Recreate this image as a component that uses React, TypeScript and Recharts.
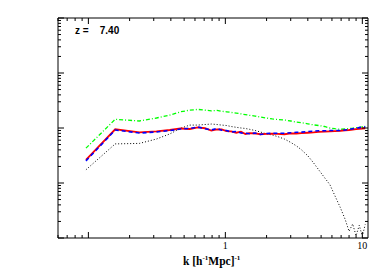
import { LineChart, Line, XAxis, YAxis } from "recharts";

// wavenumber k [h/Mpc]
const kValues = [
  0.096, 0.157, 0.236, 0.314, 0.393, 0.471, 0.55, 0.63, 0.71, 0.79, 0.87,
  0.94, 1.02, 1.1, 1.2, 1.3, 1.4, 1.5, 1.65, 1.8, 2.0, 2.2, 2.4, 2.7, 3.0,
  3.3, 3.6, 4.0, 4.4, 4.8, 5.3, 5.8, 6.3, 6.9, 7.5, 8.0, 8.5, 9.0, 9.5,
  10.0, 10.5,
];

const redRatio = [
  0.264, 0.947, 0.83, 0.865, 0.92, 0.98, 0.96, 1.03, 0.99, 0.9, 0.94, 0.947,
  0.88, 0.865, 0.82, 0.857, 0.78, 0.81, 0.795, 0.77, 0.78, 0.79, 0.78, 0.77,
  0.795, 0.795, 0.805, 0.82, 0.83, 0.847, 0.857, 0.87, 0.88, 0.89, 0.91,
  0.92, 0.935, 0.95, 0.967, 0.98, 0.99,
];

const blueRatio = [
  0.253, 0.92, 0.81, 0.847, 0.9, 0.96, 0.98, 1.04, 0.967, 0.92, 0.98, 0.91,
  0.9, 0.847, 0.865, 0.81, 0.805, 0.785, 0.81, 0.76, 0.795, 0.8, 0.805,
  0.805, 0.82, 0.836, 0.84, 0.865, 0.875, 0.89, 0.89, 0.9, 0.897, 0.905,
  0.92, 0.94, 0.967, 0.99, 1.017, 1.034, 1.05,
];

const greenRatio = [
  0.43, 1.44, 1.34, 1.52, 1.72, 1.97, 2.11, 2.18, 2.11, 2.05, 2.09, 2.01,
  1.97, 1.92, 1.87, 1.81, 1.75, 1.7, 1.65, 1.58, 1.52, 1.46, 1.43, 1.4,
  1.34, 1.28, 1.25, 1.19, 1.14, 1.11, 1.065, 1.0, 0.97, 0.947, 0.96, 0.98,
  0.99, 1.01, 1.03, 1.05, 1.087,
];

const blackRatio = [
  0.174, 0.514, 0.525, 0.63, 0.78, 0.99, 1.13, 1.13, 1.157, 1.18, 1.157,
  1.13, 1.11, 1.065, 1.03, 1.0, 0.98, 0.947, 0.9, 0.847, 0.78, 0.747, 0.7,
  0.63, 0.547, 0.473, 0.4, 0.312, 0.233, 0.174, 0.125, 0.093, 0.059, 0.036,
  0.0217, 0.0132, 0.018, 0.011, 0.017, 0.0107, 0.0177,
];

const xTicks = [
  0.06, 0.07, 0.08, 0.09, 0.1, 0.2, 0.3, 0.4, 0.5, 0.6, 0.7, 0.8, 0.9, 1, 2,
  3, 4, 5, 6, 7, 8, 9, 10,
];
const xLabels = [1, 10];

const yTicks = [
  0.01, 0.02, 0.03, 0.04, 0.05, 0.06, 0.07, 0.08, 0.09, 0.1, 0.2, 0.3, 0.4,
  0.5, 0.6, 0.7, 0.8, 0.9, 1, 2, 3, 4, 5, 6, 7, 8, 9, 10, 20, 30, 40, 50, 60,
  70, 80, 90, 100,
];

const rows = kValues.map((k, i) => ({
  k,
  red: redRatio[i],
  blue: blueRatio[i],
  green: greenRatio[i],
  black: blackRatio[i],
}));

const isMajor = (v: number) =>
  Math.abs(Math.log10(v) - Math.round(Math.log10(v))) < 1e-6;

// ticks point into the plot from each frame edge
const makeTick = (side: "bottom" | "top" | "left" | "right") => (props: any) => {
  const { x, y, payload } = props;
  const len = isMajor(payload.value) ? 6 : 3;
  let x2 = x;
  let y2 = y;
  if (side === "bottom") y2 = y - len;
  if (side === "top") y2 = y + len;
  if (side === "left") x2 = x + len;
  if (side === "right") x2 = x - len;
  return (
    <g>
      <line x1={x} y1={y} x2={x2} y2={y2} stroke="#000" strokeWidth={1} />
      {side === "bottom" && xLabels.includes(payload.value) && (
        <text
          x={x}
          y={y + 11}
          textAnchor="middle"
          fontFamily="Liberation Serif"
          fontSize={10}
          fill="#000"
        >
          {payload.value}
        </text>
      )}
    </g>
  );
};

const axisCommon = {
  type: "number" as const,
  scale: "log" as const,
  allowDataOverflow: true,
  tickSize: 0,
  tickMargin: 0,
  tickLine: false,
  stroke: "#000",
  interval: 0 as const,
};

const sup = { fontSize: 7, verticalAlign: "5px" } as const;

export default function App() {
  return (
    <div
      style={{ position: "absolute", left: 0, top: 0, width: 385, height: 275, background: "#fff" }}
    >
      <LineChart
        width={385}
        height={275}
        data={rows}
        margin={{ top: 17, right: 16, bottom: 36, left: 57 }}
      >
        <XAxis
          {...axisCommon}
          xAxisId="b"
          dataKey="k"
          domain={[0.06, 11]}
          ticks={xTicks}
          height={1}
          tick={makeTick("bottom")}
        />
        <XAxis
          {...axisCommon}
          xAxisId="t"
          orientation="top"
          dataKey="k"
          domain={[0.06, 11]}
          ticks={xTicks}
          height={1}
          tick={makeTick("top")}
        />
        <YAxis
          {...axisCommon}
          yAxisId="l"
          domain={[0.01, 100]}
          ticks={yTicks}
          width={1}
          tick={makeTick("left")}
        />
        <YAxis
          {...axisCommon}
          yAxisId="r"
          orientation="right"
          domain={[0.01, 100]}
          ticks={yTicks}
          width={1}
          tick={makeTick("right")}
        />
        <Line
          xAxisId="b"
          yAxisId="l"
          dataKey="black"
          stroke="#000"
          strokeWidth={1}
          strokeDasharray="1 2"
          dot={false}
          isAnimationActive={false}
        />
        <Line
          xAxisId="b"
          yAxisId="l"
          dataKey="green"
          stroke="#00ff00"
          strokeWidth={1.3}
          strokeDasharray="4 2 1 2"
          dot={false}
          isAnimationActive={false}
        />
        <Line
          xAxisId="b"
          yAxisId="l"
          dataKey="red"
          stroke="#ff0000"
          strokeWidth={1.8}
          dot={false}
          isAnimationActive={false}
        />
        <Line
          xAxisId="b"
          yAxisId="l"
          dataKey="blue"
          stroke="#0000ff"
          strokeWidth={1.6}
          strokeDasharray="4 3"
          dot={false}
          isAnimationActive={false}
        />
      </LineChart>
      <div
        style={{
          position: "absolute",
          left: 75,
          top: 25,
          fontFamily: "Liberation Sans",
          fontWeight: "bold",
          fontSize: 10,
          whiteSpace: "pre",
          lineHeight: "12px",
        }}
      >
        {"z =    7.40"}
      </div>
      <div
        style={{
          position: "absolute",
          left: 183,
          top: 252,
          fontFamily: "Liberation Serif",
          fontWeight: "bold",
          fontSize: 11.5,
          whiteSpace: "pre",
          lineHeight: "13px",
        }}
      >
        k [h<span style={sup}>-1</span>Mpc]<span style={sup}>-1</span>
      </div>
    </div>
  );
}
